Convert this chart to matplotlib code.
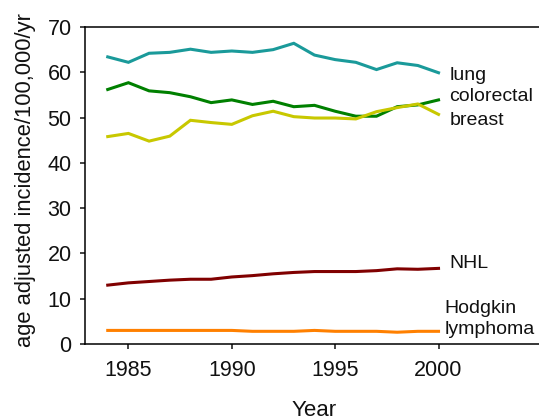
import matplotlib
matplotlib.use("Agg")
import matplotlib.pyplot as plt

plt.rcParams['font.family'] = ['Liberation Sans', 'DejaVu Sans']

years = list(range(1984, 2001))
lung = [63.4, 62.2, 64.2, 64.4, 65.1, 64.4, 64.7, 64.4, 65.0, 66.4, 63.8, 62.8, 62.2, 60.6, 62.1, 61.5, 59.9]
colorectal = [56.2, 57.7, 55.9, 55.5, 54.6, 53.3, 53.9, 52.9, 53.6, 52.4, 52.7, 51.4, 50.3, 50.3, 52.4, 52.8, 53.9]
breast = [45.8, 46.5, 44.8, 45.9, 49.4, 48.9, 48.5, 50.4, 51.4, 50.2, 49.9, 49.9, 49.7, 51.3, 52.2, 53.0, 50.7]
nhl = [13.0, 13.5, 13.8, 14.1, 14.3, 14.3, 14.8, 15.1, 15.5, 15.8, 16.0, 16.0, 16.0, 16.2, 16.6, 16.5, 16.7]
hodgkin = [3.0, 3.0, 3.0, 3.0, 3.0, 3.0, 3.0, 2.8, 2.8, 2.8, 3.0, 2.8, 2.8, 2.8, 2.6, 2.8, 2.8]

series = [
    ("lung", lung, "#1a9a9a"),
    ("colorectal", colorectal, "#008000"),
    ("breast", breast, "#c8c800"),
    ("NHL", nhl, "#800000"),
    ("Hodgkin lymphoma", hodgkin, "#ff8000"),
]

labels = [("lung", 2000.52, 59.4), ("colorectal", 2000.52, 54.6), ("breast", 2000.52, 49.3),
          ("NHL", 2000.52, 17.7), ("Hodgkin", 2000.28, 7.9), ("lymphoma", 2000.28, 3.1)]
xticks = [1985, 1990, 1995, 2000]
yticks = [0, 10, 20, 30, 40, 50, 60, 70]

fig = plt.figure(figsize=(5.39, 4.19), dpi=100)
ax = fig.add_axes([85/539, 1-344/419, 1-85/539, (344-27)/419])
for name, vals, col in series:
    ax.plot(years, vals, color=col, lw=2.2, solid_joinstyle='miter')

for txt, x, y in labels:
    ax.text(x, y, txt, fontsize=14, ha='left', va='center', color='#111111')

ax.set_xlim(1982.9, 2004.86)
ax.set_ylim(0, 70)
ax.set_xticks(xticks)
ax.set_yticks(yticks)
ax.spines['right'].set_visible(False)
for s in ['left', 'top', 'bottom']:
    ax.spines[s].set_linewidth(1.1)
ax.tick_params(direction='out', length=3.6, width=1.1, labelsize=15.5, colors='#111111')
ax.tick_params(axis='x', pad=8)
ax.tick_params(axis='y', pad=6)

fig.text(26/539, 1-180/419, "age adjusted incidence/100,000/yr", rotation=90,
         ha='center', va='center', fontsize=15.8, color='#111111')
fig.text(313.7/539, 1-415.5/419, "Year", ha='center', va='baseline', fontsize=16, color='#111111')

fig.savefig("out.png", dpi=100)
